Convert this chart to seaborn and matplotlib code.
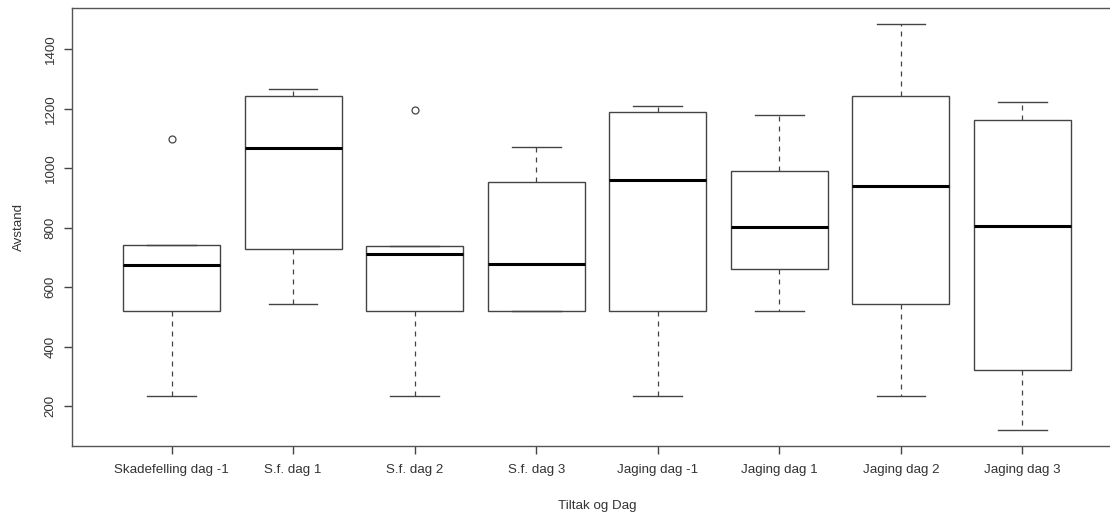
import matplotlib
matplotlib.use("Agg")
import matplotlib.pyplot as plt
import seaborn as sns
import pandas as pd

# Categories (x tick labels)
categories = ["Skadefelling dag -1", "S.f. dag 1", "S.f. dag 2", "S.f. dag 3",
              "Jaging dag -1", "Jaging dag 1", "Jaging dag 2", "Jaging dag 3"]

skadefelling_dag_m1 = [233, 520, 673, 743, 1100]
sf_dag_1 = [544, 728, 1068, 1244, 1266]
sf_dag_2 = [233, 520, 712, 737, 1195]
sf_dag_3 = [520, 520, 677, 954, 1073]
jaging_dag_m1 = [233, 520, 960, 1189, 1209]
jaging_dag_1 = [520, 661, 804, 990, 1178]
jaging_dag_2 = [233, 544, 940, 1244, 1486]
jaging_dag_3 = [119, 320, 806, 1164, 1223]

yticks = [200, 400, 600, 800, 1000, 1200, 1400]

groups = [skadefelling_dag_m1, sf_dag_1, sf_dag_2, sf_dag_3,
          jaging_dag_m1, jaging_dag_1, jaging_dag_2, jaging_dag_3]
df = pd.DataFrame({
    "Tiltak og Dag": [c for c, g in zip(categories, groups) for _ in g],
    "Avstand": [v for g in groups for v in g],
})

plt.rcParams["font.family"] = ["Liberation Sans", "DejaVu Sans"]
text_col = "#333333"
line_col = "#444444"
fs = 9.6

fig = plt.figure(figsize=(11.1, 5.12), dpi=100)
ax = fig.add_axes([72 / 1110, 1 - 446 / 512, (1122 - 72) / 1110, (446 - 8) / 512])

sns.boxplot(data=df, x="Tiltak og Dag", y="Avstand", order=categories,
            color="white", linecolor=line_col, linewidth=1.0, width=0.8,
            whis=1.5, fliersize=5, ax=ax,
            medianprops=dict(color="black", linewidth=2.2),
            whiskerprops=dict(linestyle=(0, (4, 4)), linewidth=0.9),
            capprops=dict(linewidth=1.0),
            flierprops=dict(marker="o", markerfacecolor="none",
                            markeredgewidth=0.9))

ax.set_xlim(-0.82, 7.82)
ax.set_ylim(65.4, 1539.6)
ax.set_yticks(yticks)
ax.set_yticklabels([str(t) for t in yticks], rotation=90, va="center",
                   fontsize=fs, color=text_col)
ax.set_xticks(range(len(categories)))
ax.set_xticklabels(categories, fontsize=fs, color=text_col)
ax.tick_params(axis="both", length=6, width=1.0, color=line_col)
ax.tick_params(axis="x", pad=7)
ax.tick_params(axis="y", pad=5)
for s in ax.spines.values():
    s.set_color("#555555")
    s.set_linewidth(1.0)
ax.set_xlabel("Tiltak og Dag", fontsize=fs, color=text_col, labelpad=17)
ax.set_ylabel("Avstand", fontsize=fs, color=text_col, labelpad=14)
ax.grid(False)

fig.savefig("out.png", dpi=100)
